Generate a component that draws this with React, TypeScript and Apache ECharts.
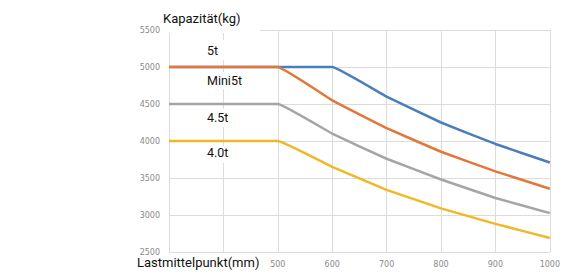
import React, { useEffect, useRef } from "react";
import * as echarts from "echarts";

const xValues = [300, 400, 500, 600, 700, 800, 900, 1000];
const s5t = [5000, 5000, 5000, 5000, 4600, 4250, 3960, 3710];
const sMini5t = [5000, 5000, 5000, 4550, 4175, 3855, 3590, 3355];
const s45t = [4500, 4500, 4500, 4100, 3760, 3480, 3230, 3025];
const s40t = [4000, 4000, 4000, 3650, 3340, 3090, 2880, 2690];
const seriesNames = ["5t", "Mini5t", "4.5t", "4.0t"];
const colors = ["#4a7ebb", "#e3773a", "#a5a5a5", "#efb824"];
const hiddenXLabels = [300, 400];

export default function App() {
  const ref = useRef<HTMLDivElement>(null);
  useEffect(() => {
    if (!ref.current) return;
    const chart = echarts.init(ref.current, undefined, { renderer: "svg" });
    const all = [s5t, sMini5t, s45t, s40t];
    const textStyle = { fontFamily: "Roboto", fontSize: 13, fill: "#111" };
    const labelBox = (y: number, w: number, h: number, text: string, ty: number) => [
      { type: "rect", left: 185, top: y, shape: { width: w, height: h }, style: { fill: "#fff" }, z: 50 },
      { type: "text", left: 207, top: ty, style: { ...textStyle, fontSize: 12.5, text }, z: 51 },
    ];
    chart.setOption({
      animation: false,
      grid: { left: 169, right: 7, top: 30, bottom: 25 },
      xAxis: {
        type: "value",
        min: 300,
        max: 1000,
        interval: 100,
        axisLine: { show: false },
        axisTick: { show: false },
        splitLine: { show: true, lineStyle: { color: "#dcdcdc", width: 1 } },
        axisLabel: {
          color: "#8a8a8a",
          fontSize: 8,
          fontFamily: "DejaVu Sans",
          margin: 8,
          formatter: (v: number) => (hiddenXLabels.includes(v) ? "" : String(v)),
        },
      },
      yAxis: {
        type: "value",
        min: 2500,
        max: 5500,
        interval: 500,
        axisLine: { show: false },
        axisTick: { show: false },
        splitLine: { show: true, lineStyle: { color: "#dcdcdc", width: 1 } },
        axisLabel: {
          color: "#8a8a8a",
          fontSize: 8,
          fontFamily: "DejaVu Sans",
          margin: 9,
          formatter: (v: number) => String(v),
        },
      },
      series: all.map((vals, i) => ({
        name: seriesNames[i],
        type: "line",
        data: xValues.map((x, j) => [x, vals[j]]),
        showSymbol: false,
        smooth: 0.08,
        lineStyle: { color: colors[i], width: 2.5 },
        z: 2 + i,
      })),
      graphic: [
        { type: "rect", left: 162, top: 0, shape: { width: 98, height: 33 }, style: { fill: "#fff" }, z: 50 },
        { type: "text", left: 163, top: 12, style: { ...textStyle, text: "Kapazität(kg)" }, z: 51 },
        ...labelBox(40, 45, 20, "5t", 44),
        ...labelBox(72, 75, 17, "Mini5t", 74),
        ...labelBox(109, 45, 18, "4.5t", 111),
        ...labelBox(146, 48, 17, "4.0t", 146),
        { type: "text", left: 137, top: 256, style: { ...textStyle, text: "Lastmittelpunkt(mm)" }, z: 51 },
      ],
    });
    return () => chart.dispose();
  }, []);
  return <div ref={ref} style={{ position: "fixed", left: 0, top: 0, width: 563, height: 277, background: "#fff" }} />;
}
